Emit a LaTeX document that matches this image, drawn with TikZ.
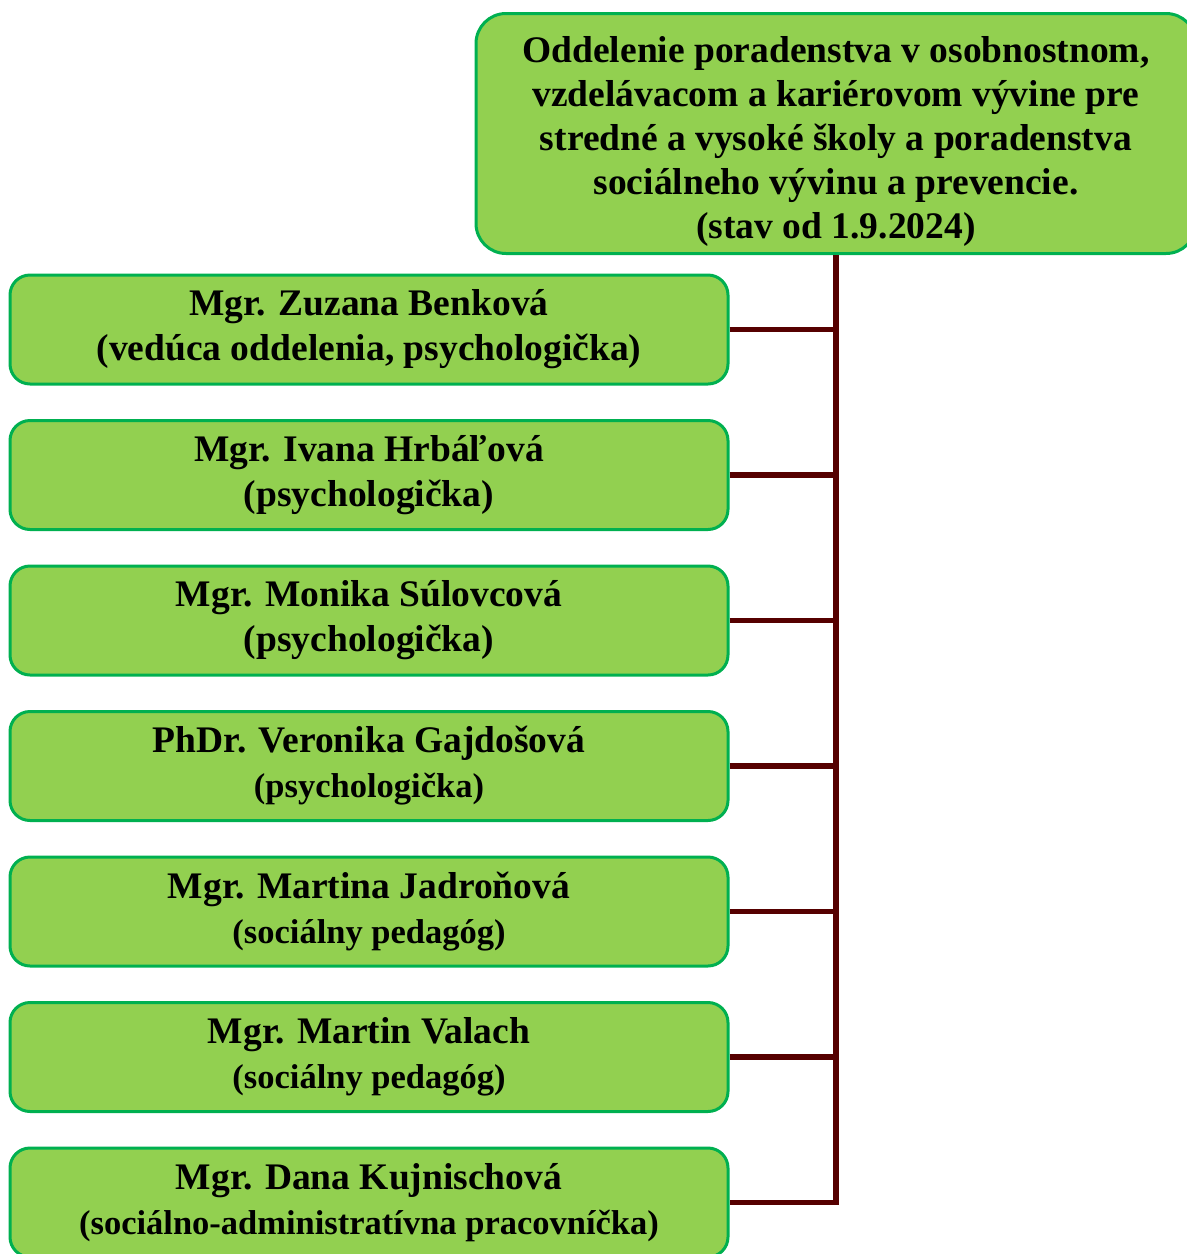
\documentclass[tikz,border=0pt]{standalone}
\usepackage{fontspec}
\setmainfont{Liberation Serif}
\usetikzlibrary{positioning}
\definecolor{boxgreen}{HTML}{92D050}
\definecolor{edgegreen}{HTML}{00B050}
\definecolor{trunkred}{HTML}{560000}
\newcommand{\smallrole}[1]{{\fontsize{17.25}{21}\selectfont #1}}
\tikzstyle{head}   = [rectangle, draw=edgegreen, line width=1.5pt, fill=boxgreen, text centered, align=center, rounded corners=15pt, minimum width=360pt, minimum height=120pt, font=\fontsize{18.75}{22}\selectfont\bfseries]
\tikzstyle{person} = [rectangle, draw=edgegreen, line width=1.5pt, fill=boxgreen, text centered, align=center, rounded corners=10pt, minimum width=359pt, minimum height=54.5pt, font=\fontsize{18.75}{22.5}\selectfont\bfseries]
\tikzstyle{link}   = [draw=trunkred, line width=2.75pt, line join=miter]
\begin{document}
\begin{tikzpicture}[x=0.5pt, y=-0.5pt]
		\useasboundingbox (0,0) rectangle (1187,1254);

		% Node Setting %

		% 0 =======================================%
		\node [head] (dept) at (836,133.5) {\rule{0pt}{21pt}Oddelenie poradenstva v osobnostnom,\\vzdelávacom a kariérovom vývine pre\\stredné a vysoké školy a poradenstva\\sociálneho vývinu a prevencie.\\(stav od 1.9.2024)};
		% 1 =======================================%
		\node [person] (zuzana) at (369,329.5) {Mgr. Zuzana Benková\\(vedúca oddelenia, psychologička)};
		\node [person, below=16.75pt of zuzana] (ivana) {Mgr. Ivana Hrbáľová\\(psychologička)};
		\node [person, below=16.75pt of ivana] (monika) {Mgr. Monika Súlovcová\\(psychologička)};
		\node [person, below=16.75pt of monika] (veronika) {PhDr. Veronika Gajdošová\\\smallrole{(psychologička)}};
		\node [person, below=16.75pt of veronika] (martina) {Mgr. Martina Jadroňová\\\smallrole{(sociálny pedagóg)}};
		\node [person, below=16.75pt of martina] (martin) {Mgr. Martin Valach\\\smallrole{(sociálny pedagóg)}};
		\node [person, below=16.75pt of martin] (dana) {Mgr. Dana Kujnischová\\\smallrole{(sociálno-administratívna pracovníčka)}};
		%=========================================%

		% Connection %

		\path [link] (dept.south) -- (dept.south |- dana.east) -- (dana.east);
		\foreach \who in {zuzana, ivana, monika, veronika, martina, martin}
			\path [link] (\who.east) -- (\who.east -| dept.south);
	\end{tikzpicture}
\end{document}
